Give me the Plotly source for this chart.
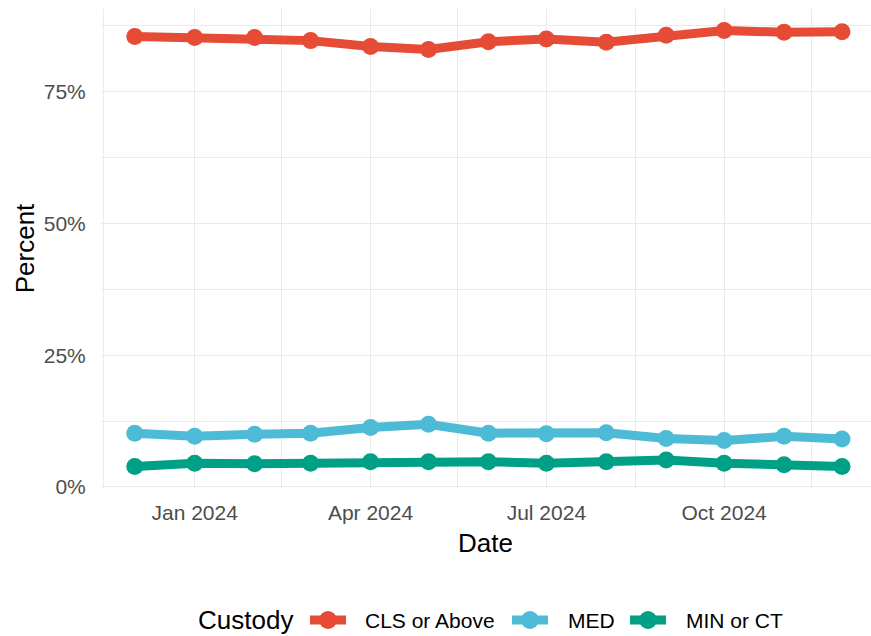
import plotly.graph_objects as go

# Monthly custody-level shares (percent of population)
dates = ["2023-12-01", "2024-01-01", "2024-02-01", "2024-03-01", "2024-04-01",
         "2024-05-01", "2024-06-01", "2024-07-01", "2024-08-01", "2024-09-01",
         "2024-10-01", "2024-11-01", "2024-12-01"]
cls_or_above = [85.5, 85.3, 85.3, 84.7, 83.6, 83.0, 84.5, 85.0, 84.4, 85.7, 86.6, 86.3, 86.4]
med = [10.2, 9.6, 10.0, 10.2, 11.3, 11.9, 10.2, 10.1, 10.3, 9.2, 8.8, 9.6, 9.1]
min_or_ct = [3.9, 4.5, 4.4, 4.5, 4.8, 4.8, 4.8, 4.5, 4.8, 5.1, 4.5, 4.2, 3.9]

series_names = ["CLS or Above", "MED", "MIN or CT"]
series_values = [cls_or_above, med, min_or_ct]
series_colors = ["#E64B35", "#4DBBD5", "#00A087"]

x_ticks = ["2024-01-01", "2024-04-01", "2024-07-01", "2024-10-01"]
x_tick_text = ["Jan 2024", "Apr 2024", "Jul 2024", "Oct 2024"]
x_minor = ["2023-11-15", "2024-02-15", "2024-05-16", "2024-08-16", "2024-11-15"]
y_ticks = [0, 25, 50, 75]
y_tick_text = ["0%", "25%", "50%", "75%"]
y_minor = [12.5, 37.5, 62.5, 87.5]

FONT = "Liberation Sans, Arial, sans-serif"
GRID = "#EBEBEB"
W, H = 871, 636
ML, MR, MT, MB = 100, 0, 9, 148
PW, PH = W - ML - MR, H - MT - MB


def px_x(px):
    return (px - ML) / PW


def px_y(py):
    return 1 - (py - MT) / PH


fig = go.Figure()
for name, vals, color in zip(series_names, series_values, series_colors):
    fig.add_trace(go.Scatter(
        x=dates, y=vals, name=name, mode="lines+markers",
        line=dict(color=color, width=9),
        marker=dict(color=color, size=17),
        showlegend=False,
    ))

# Legend row along the bottom: title, then key glyph + label per series
legend_y = px_y(620)
shapes = []
annotations = [dict(
    text="Custody", x=px_x(196), y=legend_y, xref="paper", yref="paper",
    xanchor="left", yanchor="middle", showarrow=False,
    font=dict(size=26, color="#000000", family=FONT),
)]
key_centers = [328, 530, 648]
label_starts = [363, 566, 684]
for name, color, kc, ls in zip(series_names, series_colors, key_centers, label_starts):
    shapes.append(dict(
        type="line", xref="paper", yref="paper", xsizemode="pixel", ysizemode="pixel",
        xanchor=px_x(kc), yanchor=legend_y, x0=-18, x1=18, y0=0, y1=0,
        line=dict(color=color, width=9),
    ))
    shapes.append(dict(
        type="circle", xref="paper", yref="paper", xsizemode="pixel", ysizemode="pixel",
        xanchor=px_x(kc), yanchor=legend_y, x0=-9, x1=9, y0=-9, y1=9,
        fillcolor=color, line=dict(width=0),
    ))
    annotations.append(dict(
        text=name, x=px_x(ls), y=legend_y, xref="paper", yref="paper",
        xanchor="left", yanchor="middle", showarrow=False,
        font=dict(size=21, color="#000000", family=FONT),
    ))

fig.update_layout(
    width=W, height=H,
    margin=dict(l=ML, r=MR, t=MT, b=MB, autoexpand=False),
    plot_bgcolor="white", paper_bgcolor="white",
    font=dict(family=FONT, color="#000000"),
    showlegend=False,
    shapes=shapes,
    annotations=annotations,
    xaxis=dict(
        type="date", range=["2023-11-13", "2024-12-16"],
        tickmode="array", tickvals=x_ticks, ticktext=x_tick_text,
        tickfont=dict(size=21, color="#4D4D4D"),
        ticks="outside", ticklen=6, tickcolor="rgba(0,0,0,0)",
        showgrid=True, gridcolor=GRID, gridwidth=1.2,
        minor=dict(tickmode="array", tickvals=x_minor, showgrid=True,
                   gridcolor=GRID, gridwidth=0.7),
        zeroline=False, showline=False,
        title=dict(text="Date", font=dict(size=26, color="#000000"), standoff=10),
    ),
    yaxis=dict(
        range=[-0.2, 90.7],
        tickmode="array", tickvals=y_ticks, ticktext=y_tick_text,
        tickfont=dict(size=21, color="#4D4D4D"),
        ticks="outside", ticklen=9, tickcolor="rgba(0,0,0,0)",
        showgrid=True, gridcolor=GRID, gridwidth=1.2,
        minor=dict(tickmode="array", tickvals=y_minor, showgrid=True,
                   gridcolor=GRID, gridwidth=0.7),
        zeroline=False, showline=False,
        title=dict(text="Percent", font=dict(size=26, color="#000000"), standoff=1),
    ),
)

fig.write_html("out.html")
